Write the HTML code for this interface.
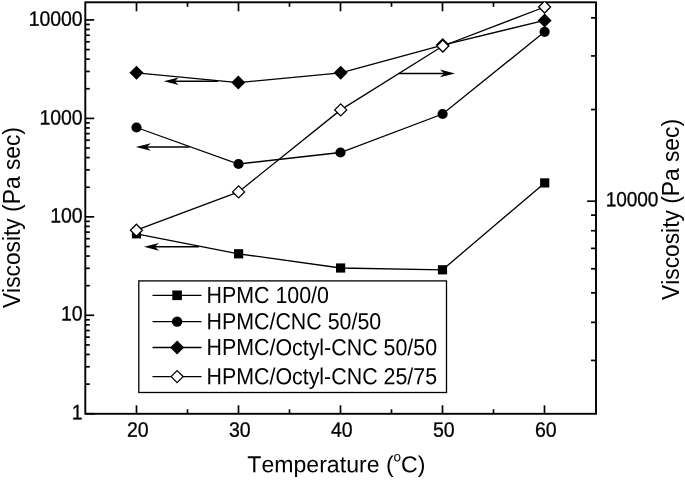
<!DOCTYPE html>
<html><head><meta charset="utf-8"><title>Viscosity vs Temperature</title>
<style>
html,body{margin:0;padding:0;background:#fff;}
svg{display:block;}
text{font-family:"Liberation Sans",Arial,sans-serif;fill:#000;font-kerning:none;}
</style></head><body>
<svg width="685" height="480" viewBox="0 0 685 480">
<rect x="0" y="0" width="685" height="480" fill="#fff"/>

<g><line x1="85.30" y1="413.75" x2="94.20" y2="413.75" stroke="#000" stroke-width="1.7"/>
<line x1="85.30" y1="384.11" x2="89.80" y2="384.11" stroke="#000" stroke-width="1.7"/>
<line x1="85.30" y1="366.78" x2="89.80" y2="366.78" stroke="#000" stroke-width="1.7"/>
<line x1="85.30" y1="354.48" x2="89.80" y2="354.48" stroke="#000" stroke-width="1.7"/>
<line x1="85.30" y1="344.94" x2="89.80" y2="344.94" stroke="#000" stroke-width="1.7"/>
<line x1="85.30" y1="337.14" x2="89.80" y2="337.14" stroke="#000" stroke-width="1.7"/>
<line x1="85.30" y1="330.55" x2="89.80" y2="330.55" stroke="#000" stroke-width="1.7"/>
<line x1="85.30" y1="324.84" x2="89.80" y2="324.84" stroke="#000" stroke-width="1.7"/>
<line x1="85.30" y1="319.80" x2="89.80" y2="319.80" stroke="#000" stroke-width="1.7"/>
<line x1="85.30" y1="315.30" x2="94.20" y2="315.30" stroke="#000" stroke-width="1.7"/>
<line x1="85.30" y1="285.66" x2="89.80" y2="285.66" stroke="#000" stroke-width="1.7"/>
<line x1="85.30" y1="268.33" x2="89.80" y2="268.33" stroke="#000" stroke-width="1.7"/>
<line x1="85.30" y1="256.03" x2="89.80" y2="256.03" stroke="#000" stroke-width="1.7"/>
<line x1="85.30" y1="246.49" x2="89.80" y2="246.49" stroke="#000" stroke-width="1.7"/>
<line x1="85.30" y1="238.69" x2="89.80" y2="238.69" stroke="#000" stroke-width="1.7"/>
<line x1="85.30" y1="232.10" x2="89.80" y2="232.10" stroke="#000" stroke-width="1.7"/>
<line x1="85.30" y1="226.39" x2="89.80" y2="226.39" stroke="#000" stroke-width="1.7"/>
<line x1="85.30" y1="221.35" x2="89.80" y2="221.35" stroke="#000" stroke-width="1.7"/>
<line x1="85.30" y1="216.85" x2="94.20" y2="216.85" stroke="#000" stroke-width="1.7"/>
<line x1="85.30" y1="187.21" x2="89.80" y2="187.21" stroke="#000" stroke-width="1.7"/>
<line x1="85.30" y1="169.88" x2="89.80" y2="169.88" stroke="#000" stroke-width="1.7"/>
<line x1="85.30" y1="157.58" x2="89.80" y2="157.58" stroke="#000" stroke-width="1.7"/>
<line x1="85.30" y1="148.04" x2="89.80" y2="148.04" stroke="#000" stroke-width="1.7"/>
<line x1="85.30" y1="140.24" x2="89.80" y2="140.24" stroke="#000" stroke-width="1.7"/>
<line x1="85.30" y1="133.65" x2="89.80" y2="133.65" stroke="#000" stroke-width="1.7"/>
<line x1="85.30" y1="127.94" x2="89.80" y2="127.94" stroke="#000" stroke-width="1.7"/>
<line x1="85.30" y1="122.90" x2="89.80" y2="122.90" stroke="#000" stroke-width="1.7"/>
<line x1="85.30" y1="118.40" x2="94.20" y2="118.40" stroke="#000" stroke-width="1.7"/>
<line x1="85.30" y1="88.76" x2="89.80" y2="88.76" stroke="#000" stroke-width="1.7"/>
<line x1="85.30" y1="71.43" x2="89.80" y2="71.43" stroke="#000" stroke-width="1.7"/>
<line x1="85.30" y1="59.13" x2="89.80" y2="59.13" stroke="#000" stroke-width="1.7"/>
<line x1="85.30" y1="49.59" x2="89.80" y2="49.59" stroke="#000" stroke-width="1.7"/>
<line x1="85.30" y1="41.79" x2="89.80" y2="41.79" stroke="#000" stroke-width="1.7"/>
<line x1="85.30" y1="35.20" x2="89.80" y2="35.20" stroke="#000" stroke-width="1.7"/>
<line x1="85.30" y1="29.49" x2="89.80" y2="29.49" stroke="#000" stroke-width="1.7"/>
<line x1="85.30" y1="24.45" x2="89.80" y2="24.45" stroke="#000" stroke-width="1.7"/>
<line x1="85.30" y1="19.95" x2="94.20" y2="19.95" stroke="#000" stroke-width="1.7"/>
<line x1="596.00" y1="360.42" x2="591.00" y2="360.42" stroke="#000" stroke-width="1.7"/>
<line x1="596.00" y1="322.37" x2="591.00" y2="322.37" stroke="#000" stroke-width="1.7"/>
<line x1="596.00" y1="292.86" x2="591.00" y2="292.86" stroke="#000" stroke-width="1.7"/>
<line x1="596.00" y1="268.75" x2="591.00" y2="268.75" stroke="#000" stroke-width="1.7"/>
<line x1="596.00" y1="248.37" x2="591.00" y2="248.37" stroke="#000" stroke-width="1.7"/>
<line x1="596.00" y1="230.71" x2="591.00" y2="230.71" stroke="#000" stroke-width="1.7"/>
<line x1="596.00" y1="215.13" x2="591.00" y2="215.13" stroke="#000" stroke-width="1.7"/>
<line x1="596.00" y1="109.54" x2="591.00" y2="109.54" stroke="#000" stroke-width="1.7"/>
<line x1="596.00" y1="55.92" x2="591.00" y2="55.92" stroke="#000" stroke-width="1.7"/>
<line x1="596.00" y1="17.87" x2="591.00" y2="17.87" stroke="#000" stroke-width="1.7"/>
<line x1="596.00" y1="201.20" x2="587.20" y2="201.20" stroke="#000" stroke-width="1.7"/>
<line x1="136.50" y1="413.80" x2="136.50" y2="405.30" stroke="#000" stroke-width="1.7"/>
<line x1="136.50" y1="2.30" x2="136.50" y2="11.30" stroke="#000" stroke-width="1.7"/>
<line x1="238.50" y1="413.80" x2="238.50" y2="405.30" stroke="#000" stroke-width="1.7"/>
<line x1="238.50" y1="2.30" x2="238.50" y2="11.30" stroke="#000" stroke-width="1.7"/>
<line x1="340.50" y1="413.80" x2="340.50" y2="405.30" stroke="#000" stroke-width="1.7"/>
<line x1="340.50" y1="2.30" x2="340.50" y2="11.30" stroke="#000" stroke-width="1.7"/>
<line x1="442.50" y1="413.80" x2="442.50" y2="405.30" stroke="#000" stroke-width="1.7"/>
<line x1="442.50" y1="2.30" x2="442.50" y2="11.30" stroke="#000" stroke-width="1.7"/>
<line x1="544.50" y1="413.80" x2="544.50" y2="405.30" stroke="#000" stroke-width="1.7"/>
<line x1="544.50" y1="2.30" x2="544.50" y2="11.30" stroke="#000" stroke-width="1.7"/>
<line x1="187.50" y1="413.80" x2="187.50" y2="409.30" stroke="#000" stroke-width="1.7"/>
<line x1="187.50" y1="2.30" x2="187.50" y2="6.80" stroke="#000" stroke-width="1.7"/>
<line x1="289.50" y1="413.80" x2="289.50" y2="409.30" stroke="#000" stroke-width="1.7"/>
<line x1="289.50" y1="2.30" x2="289.50" y2="6.80" stroke="#000" stroke-width="1.7"/>
<line x1="391.50" y1="413.80" x2="391.50" y2="409.30" stroke="#000" stroke-width="1.7"/>
<line x1="391.50" y1="2.30" x2="391.50" y2="6.80" stroke="#000" stroke-width="1.7"/>
<line x1="493.50" y1="413.80" x2="493.50" y2="409.30" stroke="#000" stroke-width="1.7"/>
<line x1="493.50" y1="2.30" x2="493.50" y2="6.80" stroke="#000" stroke-width="1.7"/></g>
<rect x="85.3" y="2.3" width="510.70" height="411.50" fill="none" stroke="#000" stroke-width="1.9"/>
<text transform="translate(82.50,419.35) rotate(0.03) scale(0.9346,1)" font-size="20.87" text-anchor="end" letter-spacing="-0.107" stroke="#000" stroke-width="0.3">1</text>
<text transform="translate(82.50,320.60) rotate(0.03) scale(0.9346,1)" font-size="20.87" text-anchor="end" letter-spacing="-0.107" stroke="#000" stroke-width="0.3">10</text>
<text transform="translate(82.50,222.40) rotate(0.03) scale(0.9346,1)" font-size="20.87" text-anchor="end" letter-spacing="-0.107" stroke="#000" stroke-width="0.3">100</text>
<text transform="translate(82.50,124.40) rotate(0.03) scale(0.9346,1)" font-size="20.87" text-anchor="end" letter-spacing="-0.107" stroke="#000" stroke-width="0.3">1000</text>
<text transform="translate(82.50,25.70) rotate(0.03) scale(0.9346,1)" font-size="20.87" text-anchor="end" letter-spacing="-0.107" stroke="#000" stroke-width="0.3">10000</text>
<text transform="translate(137.80,436.70) rotate(0.03) scale(0.9346,1)" font-size="20.87" text-anchor="middle" letter-spacing="-0.107" stroke="#000" stroke-width="0.3">20</text>
<text transform="translate(239.80,436.70) rotate(0.03) scale(0.9346,1)" font-size="20.87" text-anchor="middle" letter-spacing="-0.107" stroke="#000" stroke-width="0.3">30</text>
<text transform="translate(341.80,436.70) rotate(0.03) scale(0.9346,1)" font-size="20.87" text-anchor="middle" letter-spacing="-0.107" stroke="#000" stroke-width="0.3">40</text>
<text transform="translate(443.80,436.70) rotate(0.03) scale(0.9346,1)" font-size="20.87" text-anchor="middle" letter-spacing="-0.107" stroke="#000" stroke-width="0.3">50</text>
<text transform="translate(545.80,436.70) rotate(0.03) scale(0.9346,1)" font-size="20.87" text-anchor="middle" letter-spacing="-0.107" stroke="#000" stroke-width="0.3">60</text>
<text transform="translate(605.70,206.20) rotate(0.03) scale(0.9346,1)" font-size="20.44" text-anchor="start" letter-spacing="-0.107" stroke="#000" stroke-width="0.3">10000</text>
<text transform="translate(20.3,217.6) rotate(-90) scale(1,1.05)" font-size="22.8" text-anchor="middle">Viscosity (Pa sec)</text>
<text transform="translate(679.0,209.5) rotate(-90) scale(1,1.05)" font-size="22.8" text-anchor="middle">Viscosity (Pa sec)</text>
<text transform="translate(336.40,472.25) rotate(0.03) scale(1.0000,1)" font-size="23.10" text-anchor="middle" letter-spacing="0.000" stroke="#000" stroke-width="0">Temperature (<tspan font-size="13.5" dy="-11">o</tspan><tspan dy="11">C)</tspan></text>
<clipPath id="c"><rect x="85.3" y="1.5999999999999999" width="510.7" height="412.9"/></clipPath>
<g clip-path="url(#c)">
<polyline fill="none" stroke="#000" stroke-width="1.3" points="136.5,233.8 238.6,253.8 340.6,268 442.5,269.8 544.7,182.9"/>
<rect x="131.90" y="229.20" width="9.2" height="9.2" fill="#000"/>
<rect x="234.00" y="249.20" width="9.2" height="9.2" fill="#000"/>
<rect x="336.00" y="263.40" width="9.2" height="9.2" fill="#000"/>
<rect x="437.90" y="265.20" width="9.2" height="9.2" fill="#000"/>
<rect x="540.10" y="178.30" width="9.2" height="9.2" fill="#000"/>
<polyline fill="none" stroke="#000" stroke-width="1.3" points="136.5,127.5 238.5,164 340.5,152.5 442.6,114 544.6,31.8"/>
<circle cx="136.5" cy="127.5" r="5.1" fill="#000"/>
<circle cx="238.5" cy="164" r="5.1" fill="#000"/>
<circle cx="340.5" cy="152.5" r="5.1" fill="#000"/>
<circle cx="442.6" cy="114" r="5.1" fill="#000"/>
<circle cx="544.6" cy="31.8" r="5.1" fill="#000"/>
<polyline fill="none" stroke="#000" stroke-width="1.3" points="136.5,72.8 238.3,82.6 340.7,72.8 442.7,45.1 544.6,20.4"/>
<path d="M129.50 72.8L136.5 65.80L143.50 72.8L136.5 79.80Z" fill="#000"/>
<path d="M231.30 82.6L238.3 75.60L245.30 82.6L238.3 89.60Z" fill="#000"/>
<path d="M333.70 72.8L340.7 65.80L347.70 72.8L340.7 79.80Z" fill="#000"/>
<path d="M435.70 45.1L442.7 38.10L449.70 45.1L442.7 52.10Z" fill="#000"/>
<path d="M537.60 20.4L544.6 13.40L551.60 20.4L544.6 27.40Z" fill="#000"/>
<polyline fill="none" stroke="#000" stroke-width="1.3" points="136.4,230.2 238.6,191.9 340.7,109.9 442.8,46 544.6,7.0"/>
<path d="M130.40 230.2L136.4 224.20L142.40 230.2L136.4 236.20Z" fill="#fff" stroke="#000" stroke-width="1.3"/>
<path d="M232.60 191.9L238.6 185.90L244.60 191.9L238.6 197.90Z" fill="#fff" stroke="#000" stroke-width="1.3"/>
<path d="M334.70 109.9L340.7 103.90L346.70 109.9L340.7 115.90Z" fill="#fff" stroke="#000" stroke-width="1.3"/>
<path d="M436.80 46L442.8 40.00L448.80 46L442.8 52.00Z" fill="#fff" stroke="#000" stroke-width="1.3"/>
<path d="M538.60 7.0L544.6 1.00L550.60 7.0L544.6 13.00Z" fill="#fff" stroke="#000" stroke-width="1.3"/>
</g>
<line x1="218" y1="81.3" x2="173.7" y2="81.3" stroke="#000" stroke-width="1.5"/><path d="M163.7 81.3L178.7 77.5L174.7 81.3L178.7 85.1Z" fill="#000"/>
<line x1="189.6" y1="147" x2="145.8" y2="147" stroke="#000" stroke-width="1.5"/><path d="M135.8 147L150.8 143.2L146.8 147L150.8 150.8Z" fill="#000"/>
<line x1="199" y1="246.85" x2="154.0" y2="246.85" stroke="#000" stroke-width="1.5"/><path d="M144.0 246.85L159.0 243.04999999999998L155.0 246.85L159.0 250.65Z" fill="#000"/>
<line x1="399" y1="73.4" x2="445.0" y2="73.4" stroke="#000" stroke-width="1.5"/><path d="M455.0 73.4L440.0 69.60000000000001L444.0 73.4L440.0 77.2Z" fill="#000"/>
<rect x="138.8" y="280.9" width="307.7" height="111.60000000000002" fill="#fff" stroke="#000" stroke-width="1.3"/>
<line x1="152.50" y1="295.30" x2="201.50" y2="295.30" stroke="#000" stroke-width="1.3"/>
<rect x="172.30" y="290.50" width="9.6" height="9.6" fill="#000"/>
<text transform="translate(206.50,302.90) rotate(0.03) scale(0.9217,1)" font-size="23.22" text-anchor="start" letter-spacing="0.000" stroke="#000" stroke-width="0">HPMC 100/0</text>
<line x1="152.50" y1="321.60" x2="201.50" y2="321.60" stroke="#000" stroke-width="1.3"/>
<circle cx="177.1" cy="321.6" r="5.2" fill="#000"/>
<text transform="translate(206.50,329.20) rotate(0.03) scale(0.9217,1)" font-size="23.22" text-anchor="start" letter-spacing="0.000" stroke="#000" stroke-width="0">HPMC/CNC 50/50</text>
<line x1="152.50" y1="347.50" x2="201.50" y2="347.50" stroke="#000" stroke-width="1.3"/>
<path d="M170.10 347.5L177.1 340.50L184.10 347.5L177.1 354.50Z" fill="#000"/>
<text transform="translate(206.50,355.10) rotate(0.03) scale(0.9217,1)" font-size="23.22" text-anchor="start" letter-spacing="0.000" stroke="#000" stroke-width="0">HPMC/Octyl-CNC 50/50</text>
<line x1="152.50" y1="376.60" x2="201.50" y2="376.60" stroke="#000" stroke-width="1.3"/>
<path d="M171.10 376.6L177.1 370.60L183.10 376.6L177.1 382.60Z" fill="#fff" stroke="#000" stroke-width="1.3"/>
<text transform="translate(206.50,384.20) rotate(0.03) scale(0.9217,1)" font-size="23.22" text-anchor="start" letter-spacing="0.000" stroke="#000" stroke-width="0">HPMC/Octyl-CNC 25/75</text>
</svg></body></html>
